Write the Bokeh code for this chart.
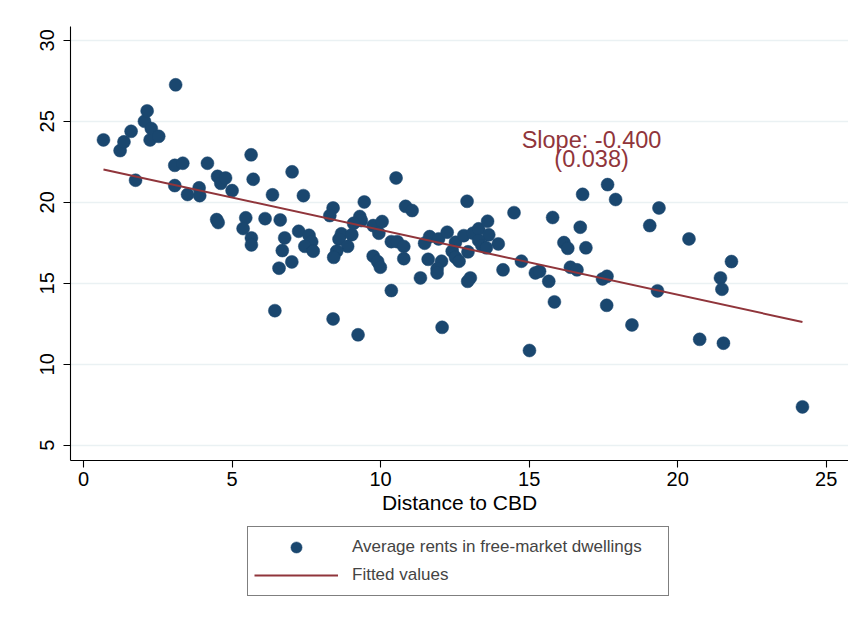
from bokeh.plotting import figure
from bokeh.layouts import column
from bokeh.models import Range1d, Legend, LegendItem, FixedTicker
from bokeh.core.properties import value
from bokeh.embed import file_html
from bokeh.resources import INLINE

# Distance to the CBD (km) and average rent in free-market dwellings
distance = [
    0.67, 1.23, 1.36, 1.60, 1.75, 2.05, 2.14, 2.24, 2.28, 2.53,
    3.10, 3.07, 3.34, 3.07, 3.50, 3.89, 3.91, 4.17, 4.51, 4.62,
    4.78, 5.00, 4.48, 4.53, 5.64, 5.71, 5.46, 5.37, 5.65, 5.65,
    6.11, 6.36, 6.44, 6.62, 6.69, 6.58, 6.77, 7.02, 7.01, 7.24,
    7.40, 7.59, 7.68, 7.45, 7.73, 8.40, 8.29, 8.68, 8.60, 9.03,
    8.89, 8.52, 8.42, 8.40, 9.24, 9.45, 9.30, 9.35, 9.09, 9.75,
    10.05, 9.94, 9.75, 9.90, 9.99, 10.52, 10.84, 11.06, 10.36, 10.56,
    10.78, 10.78, 10.36, 11.34, 11.48, 11.65, 11.95, 11.60, 12.05, 11.90,
    11.90, 12.07, 12.24, 12.52, 12.41, 12.52, 12.64, 12.80, 12.94, 12.91,
    13.02, 12.93, 13.11, 13.30, 13.60, 13.64, 13.30, 13.41, 13.56, 13.96,
    14.12, 14.49, 14.74, 15.01, 15.21, 15.35, 15.66, 15.79, 15.85, 16.17,
    16.30, 16.39, 16.61, 16.72, 16.80, 16.91, 17.47, 17.62, 17.61, 17.64,
    17.91, 18.46, 19.06, 19.32, 19.37, 20.38, 20.74, 21.44, 21.49, 21.54,
    21.81, 24.20,
]
rent = [
    23.85, 23.19, 23.73, 24.38, 21.36, 25.00, 25.64, 23.85, 24.55, 24.07,
    27.25, 22.28, 22.41, 21.03, 20.48, 20.89, 20.41, 22.41, 21.60, 21.17,
    21.50, 20.72, 18.93, 18.75, 22.93, 21.42, 19.04, 18.38, 17.80, 17.37,
    18.99, 20.46, 13.31, 18.91, 17.02, 15.93, 17.80, 21.88, 16.32, 18.21,
    20.41, 17.96, 17.56, 17.28, 16.98, 19.65, 19.18, 18.05, 17.72, 18.00,
    17.28, 16.98, 16.60, 12.80, 11.82, 20.02, 19.12, 18.87, 18.70, 18.56,
    18.81, 18.09, 16.67, 16.34, 15.99, 21.50, 19.75, 19.49, 17.57, 17.57,
    17.27, 16.52, 14.55, 15.33, 17.47, 17.88, 17.74, 16.48, 16.36, 15.89,
    15.64, 12.28, 18.15, 17.53, 16.98, 16.60, 16.36, 17.94, 16.94, 20.06,
    15.33, 15.12, 18.09, 18.36, 18.83, 17.99, 17.64, 17.33, 17.19, 17.43,
    15.83, 19.36, 16.36, 10.85, 15.64, 15.74, 15.12, 19.06, 13.85, 17.51,
    17.16, 15.99, 15.83, 18.46, 20.49, 17.19, 15.27, 15.43, 13.64, 21.09,
    20.17, 12.43, 18.56, 14.53, 19.65, 17.74, 11.54, 15.33, 14.63, 11.30,
    16.34, 7.37,
]

# OLS fit reported on the chart
intercept = 22.29
slope = -0.400
slope_se = 0.038

x_ticks = [0, 5, 10, 15, 20, 25]
y_ticks = [5, 10, 15, 20, 25, 30]

NAVY = "#1a476f"
MAROON = "#90353b"
FONT = "Liberation Sans"
W = 848
TOP_H = 522
LEG_H = 621 - TOP_H

scatter_style = dict(size=13, fill_color=NAVY, line_color=NAVY, line_width=0.5)
line_style = dict(line_color=MAROON, line_width=2)

p = figure(
    width=W, height=TOP_H,
    x_range=Range1d(-0.44, 25.75), y_range=Range1d(4.06, 30.85),
    min_border_left=70, min_border_right=0, min_border_top=26, min_border_bottom=62,
    output_backend="svg", toolbar_location=None,
    background_fill_color="white", border_fill_color="white",
)
p.outline_line_color = None

# fitted line across the observed distance range
x_fit = [min(distance), max(distance)]
y_fit = [intercept + slope * x for x in x_fit]

p.scatter(distance, rent, **scatter_style)
p.line(x_fit, y_fit, **line_style)

p.text(
    x=[17.1, 17.1], y=[23.87, 22.70],
    text=[f"Slope: {slope:.3f}", f"({slope_se:.3f})"],
    text_align="center", text_baseline="middle",
    text_font=value(FONT), text_font_size="23.5px", text_color=MAROON,
)

# axes
p.xaxis.ticker = FixedTicker(ticks=x_ticks)
p.yaxis.ticker = FixedTicker(ticks=y_ticks)
p.xaxis.axis_label = "Distance to CBD"
for ax in (p.xaxis[0], p.yaxis[0]):
    ax.axis_line_color = "black"
    ax.axis_line_width = 1.1
    ax.major_tick_line_color = "black"
    ax.major_tick_line_width = 1.1
    ax.major_tick_out = 7
    ax.major_tick_in = 0
    ax.minor_tick_line_color = None
    ax.major_label_text_font = FONT
    ax.major_label_text_font_size = "20px"
    ax.major_label_text_color = "black"
    ax.axis_label_text_font = FONT
    ax.axis_label_text_font_size = "21px"
    ax.axis_label_text_font_style = "normal"
    ax.axis_label_text_color = "black"
p.xaxis.major_label_standoff = 4
p.xaxis.axis_label_standoff = 2
p.yaxis.major_label_orientation = "vertical"
p.yaxis.major_label_standoff = 9

p.xgrid.visible = False
p.ygrid.ticker = FixedTicker(ticks=y_ticks)
p.ygrid.grid_line_color = "#eaf1f3"
p.ygrid.grid_line_width = 1.6

# legend strip under the chart; its key glyphs carry the same styles
# but hold no visible points
leg = figure(
    width=W, height=LEG_H,
    x_range=Range1d(0, 1), y_range=Range1d(0, 1),
    x_axis_type=None, y_axis_type=None,
    min_border=0, output_backend="svg", toolbar_location=None,
    background_fill_color="white", border_fill_color="white",
)
leg.outline_line_color = None
leg.grid.visible = False
nan = float("nan")
key_pt = leg.scatter(x=[nan], y=[nan], **scatter_style)
key_ln = leg.line(x=[nan, nan], y=[nan, nan], **line_style)

legend = Legend(
    items=[
        LegendItem(label="Average rents in free-market dwellings", renderers=[key_pt]),
        LegendItem(label="Fitted values", renderers=[key_ln]),
    ],
    location=(177, 25),
    orientation="vertical",
    padding=6, spacing=0, margin=0,
    glyph_width=84, glyph_height=28, label_height=28,
    label_width=310, label_standoff=14,
    label_text_font=FONT, label_text_font_size="17px",
    label_text_baseline="middle",
    border_line_color="black", border_line_width=1,
    background_fill_color="white", background_fill_alpha=1,
)
leg.add_layout(legend)

layout = column(p, leg, spacing=0)
open("out.html", "w").write(file_html(layout, INLINE))
